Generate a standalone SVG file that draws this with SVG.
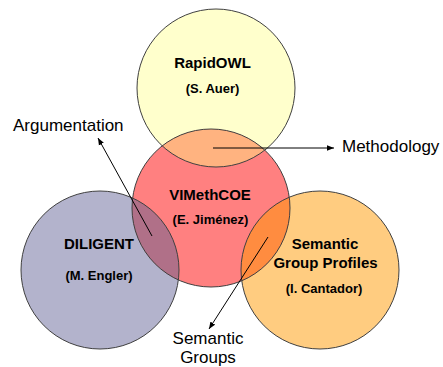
<svg xmlns="http://www.w3.org/2000/svg" xmlns:xlink="http://www.w3.org/1999/xlink" width="443" height="367" viewBox="0 0 443 367">
<style>
.ring{fill:none;stroke:#404040;stroke-width:1}
.t{font-family:"Liberation Sans",Arial,sans-serif;font-weight:bold;font-size:15px;text-anchor:middle;fill:#000}
.s{font-family:"Liberation Sans",Arial,sans-serif;font-weight:bold;font-size:13px;text-anchor:middle;fill:#000}
.lbl{font-family:"Liberation Sans",Arial,sans-serif;font-size:17px;fill:#000}
.conn{stroke:#000;stroke-width:1;fill:none;marker-end:url(#ah)}
</style>
<defs>
<clipPath id="clipY"><circle cx="216" cy="88" r="79"/></clipPath>
<clipPath id="clipP"><circle cx="100" cy="270" r="79"/></clipPath>
<clipPath id="clipO"><circle cx="320" cy="270" r="79"/></clipPath>
<marker id="ah" viewBox="0 0 10 10" refX="10" refY="5" markerWidth="7" markerHeight="7" markerUnits="userSpaceOnUse" orient="auto">
<path d="M0,1 L10,5 L0,9 Z" fill="#000"/>
</marker>
</defs>
<rect width="443" height="367" fill="#fff"/>
<g id="fills">
<circle cx="216" cy="88" r="79" fill="#FFFFCC"/>
<circle cx="100" cy="270" r="79" fill="#B3B3CC"/>
<circle cx="320" cy="270" r="79" fill="#FFCC80"/>
<circle cx="211" cy="208" r="79" fill="#FF8080"/>
</g>
<g id="overlaps">
<circle cx="211" cy="208" r="79" fill="#FFB380" clip-path="url(#clipY)"/>
<circle cx="211" cy="208" r="79" fill="#B07088" clip-path="url(#clipP)"/>
<circle cx="211" cy="208" r="79" fill="#FF8C40" clip-path="url(#clipO)"/>
</g>
<g id="rapidowl">
<circle class="ring" cx="216" cy="88" r="79"/>
<text class="t" x="212.5" y="68">RapidOWL</text>
<text class="s" x="212.5" y="93">(S. Auer)</text>
</g>
<g id="vimethcoe">
<circle class="ring" cx="211" cy="208" r="79"/>
<text class="t" x="210" y="200">VIMethCOE</text>
<text class="s" x="210.5" y="224">(E. Jiménez)</text>
</g>
<g id="diligent">
<circle class="ring" cx="100" cy="270" r="79"/>
<text class="t" x="99" y="249">DILIGENT</text>
<text class="s" x="99" y="280">(M. Engler)</text>
</g>
<g id="sgp">
<circle class="ring" cx="320" cy="270" r="79"/>
<text class="t" x="325" y="249">Semantic</text>
<text class="t" x="325.5" y="268">Group Profiles</text>
<text class="s" x="324" y="293">(I. Cantador)</text>
</g>
<g id="connectors">
<line class="conn" x1="213" y1="148" x2="334" y2="148"/>
<line class="conn" x1="152" y1="236" x2="98" y2="138"/>
<line class="conn" x1="268" y1="237" x2="209" y2="329"/>
</g>
<g id="labels">
<text class="lbl" x="13" y="131">Argumentation</text>
<text class="lbl" x="342" y="152">Methodology</text>
<text class="lbl" x="208" y="344" text-anchor="middle">Semantic</text>
<text class="lbl" x="208" y="363" text-anchor="middle">Groups</text>
</g>
</svg>
